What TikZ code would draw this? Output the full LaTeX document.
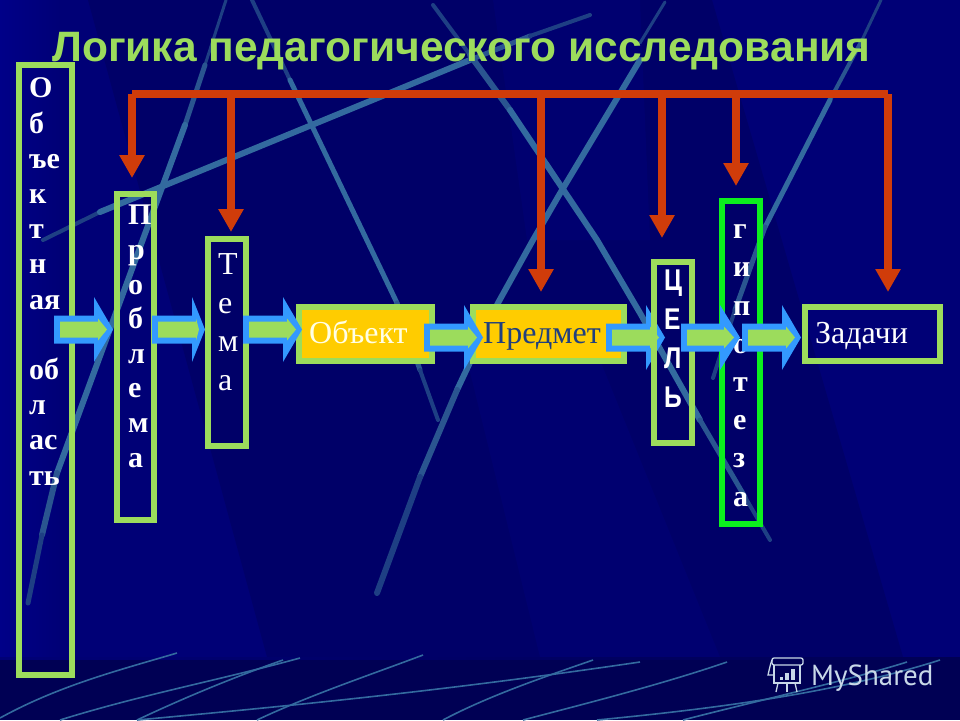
\documentclass[tikz,border=0pt]{standalone}
\usepackage{fontspec}
\setmainfont{Liberation Serif}
\newfontfamily\sansbold{Liberation Sans}
\newfontfamily\wmfont{PT Sans}
\usetikzlibrary{arrows.meta}
\definecolor{bgbase}{HTML}{000076}
\definecolor{bgleft}{HTML}{000088}
\definecolor{bgdark}{HTML}{000068}
\definecolor{bgmid}{HTML}{000070}
\definecolor{bgband}{HTML}{000054}
\definecolor{lime}{HTML}{9CDC5C}
\definecolor{hypgreen}{HTML}{0CF01E}
\definecolor{skyb}{HTML}{3399FF}
\definecolor{amber}{HTML}{FFCC00}
\definecolor{brick}{HTML}{D03C0A}
\definecolor{cream}{HTML}{FFFFE6}
\definecolor{inkblue}{HTML}{1F3F7F}
\definecolor{wmark}{HTML}{C8D8E8}
\definecolor{ln1}{HTML}{336A9F}
\definecolor{ln2}{HTML}{2A5590}
\definecolor{ln3}{HTML}{1E3F84}
\tikzset{
  gbox/.style={draw=lime,line width=6pt,inner sep=0pt,outer sep=0pt},
  obox/.style={gbox,fill=amber},
  hbox/.style={gbox,draw=hypgreen},
  stack/.style={anchor=base west,inner sep=0pt,align=left,text=white},
  single/.style={anchor=base west,inner sep=0pt,font=\fontsize{32}{38}\selectfont},
  bus/.style={draw=brick,line width=8pt},
  drop/.style={draw=brick,line width=8pt,-{Triangle[length=23pt,width=24pt]}},
  la/.style={draw=ln1,line width=6pt,line cap=round,line join=round},
  lb/.style={draw=ln2,line width=5pt,line cap=round,line join=round},
  lc/.style={draw=ln3,line width=4pt,line cap=round,line join=round},
  fine/.style={draw=ln1,line width=1.6pt},
  icon/.style={draw=wmark,line width=1.3pt},
}
\newcommand{\blockarrow}[4]{% tail, head base, tip, centre y
  \fill[skyb] (#1,#4-14) -- (#2,#4-14) -- (#2,#4-32.5) -- (#3,#4) -- (#2,#4+32.5) -- (#2,#4+14) -- (#1,#4+14) -- cycle;
  \fill[lime] (#1+6,#4-8) -- (#2+4,#4-8) -- (#2+4,#4-11) -- (#3-6,#4) -- (#2+4,#4+11) -- (#2+4,#4+8) -- (#1+6,#4+8) -- cycle;
}
\begin{document}
\begin{tikzpicture}[x=1pt,y=-1pt]
\useasboundingbox (0,0) rectangle (960,720);
% background
\fill[bgbase] (0,0) rectangle (960,720);
\shade[left color=bgleft,right color=bgbase] (0,0) rectangle (60,657);
\fill[bgdark] (88,0) -- (712,0) -- (903,657) -- (267,657) -- cycle;
\fill[bgmid] (493,0) -- (640,0) -- (650,240) -- (527,240) -- cycle;
\fill[bgmid] (467,360) -- (600,360) -- (720,657) -- (540,657) -- cycle;
\fill[bgband] (0,657) rectangle (960,720);
\shade[left color=bgbase,middle color=lime!75!gray,right color=bgband] (0,657) rectangle (960,659);
% diagonal lines
\draw[lc,line width=3pt] (226,0) -- (205,65);
\draw[lb,line width=5pt] (205,65) -- (185,125);
\draw[la] (185,125) -- (57,473);
\draw[lb,line width=6pt] (57,473) -- (42,535);
\draw[lc,line width=5pt] (42,535) -- (28,603);
\draw[lc] (43,240) -- (100,212);
\draw[la] (100,212) -- (470,60);
\draw[lb,line width=5pt] (470,60) -- (530,36);
\draw[lc,line width=4pt] (530,36) -- (590,15);
\draw[lc] (252,0) -- (290,80);
\draw[la,line width=5pt] (290,80) -- (397,303);
\draw[lb,line width=5pt] (397,303) -- (420,370);
\draw[lc,line width=4pt] (420,370) -- (438,420);
\draw[lc,line width=4pt] (433,5) -- (470,55);
\draw[lb,line width=6pt] (470,55) -- (510,110);
\draw[la,line width=6pt] (510,110) -- (597,240) -- (640,313) -- (700,420);
\draw[lb,line width=5pt] (700,420) -- (745,497);
\draw[lc,line width=4pt] (745,497) -- (770,540);
\draw[lc,line width=3pt] (665,2) -- (640,43);
\draw[la,line width=6pt] (640,60) -- (562,190) -- (533,240) -- (498,303) -- (457,390);
\draw[lb,line width=6pt] (457,390) -- (420,477);
\draw[lc,line width=6pt] (420,477) -- (377,593);
\draw[lc,line width=3pt] (881,0) -- (862,40);
\draw[lb,line width=4pt] (862,40) -- (830,100);
\draw[la,line width=5pt] (830,100) -- (765,227);
\draw[lb,line width=5pt] (765,227) -- (735,310);
\draw[lc,line width=4pt] (735,310) -- (713,378);
% thin lines under the band
\draw[fine] (0,718) .. controls (60,685) and (120,670) .. (177,653);
\draw[fine] (60,720) .. controls (140,695) and (220,680) .. (300,658);
\draw[fine] (137,720) .. controls (190,695) and (240,675) .. (283,660);
\draw[fine] (137,720) .. controls (300,705) and (450,690) .. (640,662);
\draw[fine] (257,720) .. controls (310,695) and (370,675) .. (423,655);
\draw[fine] (443,720) .. controls (490,695) and (550,675) .. (593,660);
\draw[fine] (523,720) .. controls (580,705) and (660,685) .. (727,662);
\draw[fine] (597,720) .. controls (700,710) and (830,695) .. (940,660);
\draw[fine] (683,720) .. controls (740,705) and (850,680) .. (907,662);
% title
\node[anchor=base west,inner sep=0pt,text=lime,font={\fontsize{42.5}{48}\selectfont\sansbold\bfseries}] (title) at (52,61) {Логика педагогического исследования};
% red bus and drops
\coordinate (busL) at (132,94);
\coordinate (busR) at (888,94);
\coordinate (d1) at (132,94); \coordinate (e1) at (132,178);
\coordinate (d2) at (231,94); \coordinate (e2) at (231,232);
\coordinate (d3) at (541,94); \coordinate (e3) at (541,292);
\coordinate (d4) at (662,94); \coordinate (e4) at (662,238);
\coordinate (d5) at (736,94); \coordinate (e5) at (736,186);
\coordinate (d6) at (888,94); \coordinate (e6) at (888,292);
\draw[drop] (d1) -- (e1);
\draw[drop] (d2) -- (e2);
\draw[drop] (d3) -- (e3);
\draw[drop] (d4) -- (e4);
\draw[drop] (d5) -- (e5);
\draw[drop] (d6) -- (e6);
\draw[bus] (busL) -- (busR);
% boxes
\node[gbox,minimum width=53pt,minimum height=610pt] (area) at (45.5,370) {};
\node[gbox,minimum width=37pt,minimum height=326pt] (prob) at (135.5,357) {};
\node[gbox,minimum width=38pt,minimum height=207pt] (tema) at (227,342.5) {};
\node[obox,minimum width=133pt,minimum height=54pt] (obj) at (365.5,334) {};
\node[obox,minimum width=151pt,minimum height=54pt] (pred) at (548.5,334) {};
\node[gbox,minimum width=135pt,minimum height=54pt] (zad) at (872.5,334) {};
\node[hbox,minimum width=38pt,minimum height=323pt] (hyp) at (741,362.5) {};
% labels (the base of a stacked node is its last line)
\node[stack,font={\fontsize{30}{35.2}\selectfont\bfseries}] (areat) at (29,485) {О\\б\\ъе\\к\\т\\н\\ая\\~\\об\\л\\ас\\ть};
\node[stack,font={\fontsize{30}{34.6}\selectfont\bfseries}] (probt) at (128,467) {П\\р\\о\\б\\л\\е\\м\\а};
\node[stack,font={\fontsize{32}{38.4}\selectfont}] (temat) at (218,390) {Т\\е\\м\\а};
\node[single,text=cream] (objt) at (309,343) {Объект};
\node[single,text=inkblue] (predt) at (483,343) {Предмет};
\node[single,text=white] (zadt) at (815,343) {Задачи};
\node[stack,font={\fontsize{30}{38.2}\selectfont\bfseries}] (hypt) at (733,506) {г\\и\\п\\о\\т\\е\\з\\а};
% block arrows
\blockarrow{54}{94}{113}{329.5}
\blockarrow{152}{192}{205}{329.5}
\blockarrow{243}{283}{302}{329.5}
\blockarrow{424}{464}{483}{337.5}
\blockarrow{606}{646}{665}{337.5}
% goal box sits above the arrow that enters it
\node[gbox,minimum width=38pt,minimum height=181pt] (cel) at (673,352.5) {};
\node[stack,font={\fontsize{30}{39}\selectfont\sansbold\bfseries},xscale=.82,transform shape] (celt) at (664,407) {Ц\\Е\\Л\\Ь};
\blockarrow{681}{720}{740}{337.5}
\blockarrow{742}{782}{801}{337.5}
% watermark
\draw[icon,rounded corners=2pt] (772,658) rectangle (803,665);
\draw[icon] (774,665) -- (774,683) -- (800,683) -- (800,665);
\draw[icon] (772,660) .. controls (770,665) and (769,671) .. (768,675) -- (774,675);
\draw[icon] (778,683) -- (776,692);
\draw[icon] (787,683) -- (787,692);
\draw[icon] (795,683) -- (797,692);
\fill[wmark] (780,676.5) rectangle (783,680);
\fill[wmark] (785,673) rectangle (789,680);
\fill[wmark] (791,669) rectangle (795,680);
\node[anchor=base west,inner sep=0pt,text=wmark,font={\fontsize{29}{34}\selectfont\wmfont}] (wm) at (811,685) {MyShared};
\end{tikzpicture}
\end{document}
